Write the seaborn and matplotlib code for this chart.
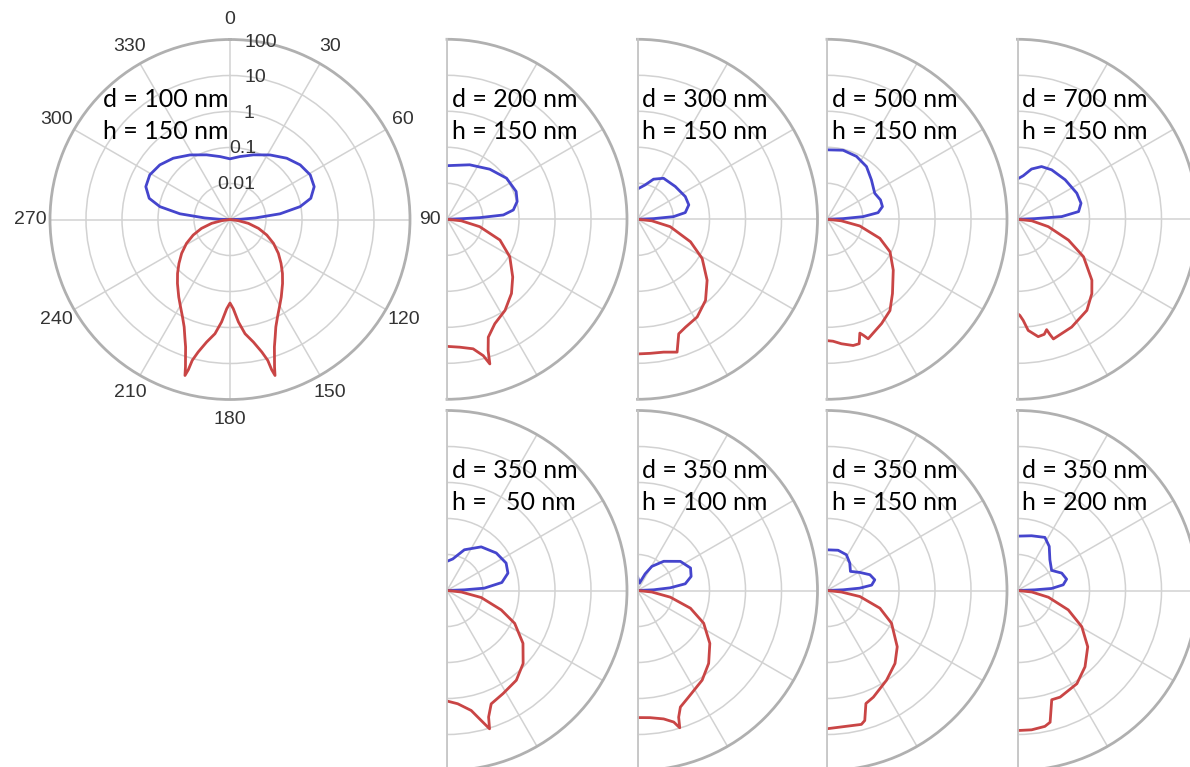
import numpy as np
import matplotlib
matplotlib.use("Agg")
import matplotlib.pyplot as plt
from matplotlib.ticker import NullLocator
import seaborn as sns

# ---------------- data (angle in degrees, log10 of scattered intensity) ----------------
d100_blue_theta = [0, 9.0, 19.9, 31.8, 42.8, 52.1, 60.9, 68.7, 75.3, 79.6, 83.5, 86.5, 88.5, 90]
d100_blue_log10 = [-1.315, -1.23, -1.09, -0.89, -0.68, -0.53, -0.45, -0.49, -0.68, -1.02, -1.6, -2.3, -2.7, -3]
d100_red_theta = [90, 98.0, 101.8, 107.3, 112.9, 118.8, 125.0, 130.7, 135.8, 140.6, 146.5, 150.5, 154.0,
                  156.9, 159.0, 160.8, 162.1, 163.2, 163.9, 164.5, 165.0, 166.5, 169.2, 172.5, 175.3, 177.9, 180]
d100_red_log10 = [-3, -2.77, -2.48, -2.17, -1.89, -1.62, -1.36, -1.13, -0.91, -0.70, -0.42, -0.21, 0.01,
                  0.245, 0.50, 0.75, 1.02, 1.28, 1.51, 1.33, 1.05, 0.785, 0.465, 0.20, -0.145, -0.52, -0.68]

d200_blue_theta = [0, 22.6, 40.5, 55.4, 68.1, 75.8, 82, 85.6, 87.1, 87.6, 90]
d200_blue_log10 = [-1.51, -1.36, -1.17, -0.99, -0.93, -0.99, -1.14, -1.43, -2.09, -2.55, -3]
d200_red_theta = [90, 96, 102.7, 111.4, 120.8, 131.3, 139, 147.5, 155.4, 160.7, 162.6, 163.5, 165.1, 168.6, 174.3, 180]
d200_red_log10 = [-3, -2.6, -2.07, -1.42, -0.97, -0.57, -0.27, 0.0, 0.19, 0.47, 0.82, 1.19, 0.92, 0.67, 0.57, 0.53]

d300_blue_theta = [0, 12.6, 21.8, 32.4, 49, 64.6, 74.3, 82, 85.8, 87.6, 90]
d300_blue_log10 = [-2.16, -2.02, -1.8, -1.65, -1.61, -1.53, -1.52, -1.66, -2.0, -2.55, -3]
d300_red_theta = [90, 96, 102.7, 113, 121.2, 131.2, 140, 148.6, 156, 160.2, 163.4, 168.9, 174.6, 180]
d300_red_log10 = [-3, -2.6, -2.07, -1.4, -0.9, -0.43, -0.06, 0.18, 0.28, 0.38, 0.85, 0.76, 0.74, 0.74]

d500_blue_theta = [0, 13.1, 25.1, 36.8, 48.4, 61.4, 70.1, 77.1, 82.6, 85.8, 87.6, 90]
d500_blue_log10 = [-1.07, -1.03, -1.07, -1.17, -1.35, -1.49, -1.42, -1.42, -1.57, -2.0, -2.55, -3]
d500_red_theta = [90, 96, 101.5, 109.8, 117.3, 127.5, 138.6, 145.4, 152.4, 161, 162.4, 163.9, 165.5, 168.3, 173.4, 177.2, 180]
d500_red_log10 = [-3, -2.6, -2.07, -1.44, -1.03, -0.68, -0.25, 0.08, 0.27, 0.51, 0.39, 0.29, 0.57, 0.58, 0.48, 0.39, 0.37]

d700_blue_theta = [0, 7.5, 15.6, 24.5, 34.6, 50.3, 66.2, 75.8, 82.8, 86.5, 87.8, 90]
d700_blue_log10 = [-1.88, -1.78, -1.55, -1.39, -1.33, -1.28, -1.2, -1.18, -1.29, -1.77, -2.52, -3]
d700_red_theta = [90, 96, 103.4, 112.2, 119.6, 129.3, 135, 142.7, 153.3, 163.3, 164.3, 165.2, 166.9, 170, 174.5, 176.8, 178.6, 180]
d700_red_log10 = [-3, -2.6, -2.12, -1.47, -0.89, -0.33, -0.08, 0.18, 0.35, 0.47, 0.32, 0.17, 0.28, 0.31, 0.10, -0.19, -0.33, -0.38]

h50_blue_theta = [0, 10.3, 23.1, 38.1, 52.7, 65.1, 74.1, 81.7, 86.4, 87.8, 90]
h50_blue_log10 = [-2.19, -2.11, -1.77, -1.46, -1.28, -1.19, -1.24, -1.46, -1.96, -2.52, -3]
h50_red_theta = [90, 96, 101.6, 109.7, 115.9, 124.8, 133.8, 142.3, 151.5, 158.7, 161.8, 162.9, 165.3, 168.6, 174.6, 180]
h50_red_log10 = [-3, -2.6, -2.03, -1.4, -0.91, -0.43, -0.07, 0.15, 0.26, 0.38, 0.70, 1.02, 0.73, 0.40, 0.16, 0.07]

h100_blue_theta = [0, 15, 24.7, 30.8, 41.9, 55.8, 67, 75.3, 82, 85.3, 87.5, 90]
h100_blue_log10 = [-2.61, -2.79, -2.49, -2.22, -1.91, -1.56, -1.4, -1.46, -1.66, -2.09, -2.55, -3]
h100_red_theta = [90, 96, 101.5, 108.5, 116.3, 126.2, 135.7, 144.2, 154.3, 159.8, 162, 162.9, 164.6, 168.5, 174.3, 180]
h100_red_log10 = [-3, -2.6, -2.07, -1.45, -0.95, -0.51, -0.17, 0.07, 0.28, 0.45, 0.70, 0.99, 0.79, 0.64, 0.55, 0.53]

h150_blue_theta = [0, 15.4, 28.5, 39.7, 50.8, 61.1, 69.8, 77.4, 83.1, 85.9, 87.5, 90]
h150_blue_log10 = [-1.87, -1.84, -1.87, -2.01, -2.16, -1.96, -1.73, -1.64, -1.75, -2.09, -2.55, -3]
h150_red_theta = [90, 96, 100.4, 108.5, 116.9, 128.7, 137, 146.4, 156.5, 161, 163.8, 165.6, 171.9, 180]
h150_red_log10 = [-3, -2.6, -2.07, -1.45, -0.99, -0.50, -0.23, -0.01, 0.23, 0.32, 0.76, 0.84, 0.81, 0.84]

h200_blue_theta = [0, 14.4, 27.3, 35.7, 46.5, 59.5, 68.5, 77, 82.9, 86.6, 87.8, 90]
h200_blue_log10 = [-1.49, -1.43, -1.34, -1.49, -1.76, -1.90, -1.68, -1.60, -1.72, -2.05, -2.52, -3]
h200_red_theta = [90, 96, 102.3, 110.9, 119.4, 128.7, 138.5, 147.5, 158.2, 162.6, 166.1, 168.6, 174.2, 180]
h200_red_log10 = [-3, -2.6, -2.12, -1.49, -0.95, -0.50, -0.17, 0.07, 0.19, 0.18, 0.77, 0.85, 0.89, 0.89]

d_labels = ["d = 100 nm", "d = 200 nm", "d = 300 nm", "d = 500 nm", "d = 700 nm",
            "d = 350 nm", "d = 350 nm", "d = 350 nm", "d = 350 nm"]
h_labels = ["h = 150 nm", "h = 150 nm", "h = 150 nm", "h = 150 nm", "h = 150 nm",
            "h =   50 nm", "h = 100 nm", "h = 150 nm", "h = 200 nm"]

theta_ticks = [0, 30, 60, 90, 120, 150, 180, 210, 240, 270, 300, 330]
r_ticks = [0.01, 0.1, 1, 10, 100]
r_tick_labels = ["0.01", "0.1", "1", "10", "100"]

# ---------------- style ----------------
sns.set_theme(style="whitegrid")
plt.rcParams["font.family"] = ["Liberation Sans", "DejaVu Sans"]

W, H = 1190, 767
fig = plt.figure(figsize=(W / 100, H / 100), dpi=100)
fig.patch.set_facecolor("white")

GRID = "#d2d2d2"
EDGE = "#b0b0b0"
BLUE = "#4545cd"
RED = "#c94545"
TXT = "#333333"
R = 180  # px radius


def fig_box(left, top, w, h):
    return [left / W, 1 - (top + h) / H, w / W, h / H]


def style_axes(ax, half):
    ax.set_facecolor("white")
    ax.set_theta_zero_location("N")
    ax.set_theta_direction(-1)
    if half:
        ax.set_thetamin(0)
        ax.set_thetamax(180)
    ax.set_rscale("log")
    ax.set_rlim(1e-3, 1e2)
    ax.set_yticks(r_ticks[:-1])
    ax.yaxis.set_minor_locator(NullLocator())
    ax.set_yticklabels([])
    ax.grid(True, color=GRID, lw=1.1)
    ax.spines["polar"].set_color(EDGE)
    ax.spines["polar"].set_linewidth(2.0)
    if half:
        for s in ("start", "end"):
            ax.spines[s].set_color("#c6c6c6")
            ax.spines[s].set_linewidth(1.3)
        ax.spines["inner"].set_visible(False)


def draw(ax, th, lg, color):
    sns.lineplot(x=np.deg2rad(th), y=np.power(10.0, lg), sort=False, estimator=None,
                 color=color, lw=2.0, ax=ax)
    ax.set_xlabel("")
    ax.set_ylabel("")


def add_text(x, y, i):
    for j, lab in enumerate((d_labels[i], h_labels[i])):
        fig.text(x / W, 1 - (y + 32 * j) / H, lab, family=["Lato", "DejaVu Sans"], fontsize=18,
                 color="black", va="baseline", ha="left")


# ---------------- full polar plot (d = 100 nm) ----------------
cx0, cy0 = 230, 219.5
ax0 = fig.add_axes(fig_box(cx0 - R, cy0 - R, 2 * R, 2 * R), projection="polar")
style_axes(ax0, half=False)
ax0.set_xticks(np.deg2rad(theta_ticks))
ax0.set_xticklabels([str(t) for t in theta_ticks], fontsize=14, color=TXT)
ax0.tick_params(axis="x", pad=1.5)
bt = np.array(d100_blue_theta)
bl = np.array(d100_blue_log10)
draw(ax0, np.concatenate([-bt[::-1], bt[1:]]), np.concatenate([bl[::-1], bl[1:]]), BLUE)
rt = np.array(d100_red_theta)
rl = np.array(d100_red_log10)
draw(ax0, np.concatenate([rt, 360 - rt[::-1][1:]]), np.concatenate([rl, rl[::-1][1:]]), RED)
for v, lab in zip(r_ticks, r_tick_labels):
    ax0.text(np.deg2rad(10), v, lab, ha="center", va="center", fontsize=14, color=TXT, zorder=5)
add_text(103, 107, 0)

# ---------------- half polar plots ----------------
halves = [
    (d200_blue_theta, d200_blue_log10, d200_red_theta, d200_red_log10),
    (d300_blue_theta, d300_blue_log10, d300_red_theta, d300_red_log10),
    (d500_blue_theta, d500_blue_log10, d500_red_theta, d500_red_log10),
    (d700_blue_theta, d700_blue_log10, d700_red_theta, d700_red_log10),
    (h50_blue_theta, h50_blue_log10, h50_red_theta, h50_red_log10),
    (h100_blue_theta, h100_blue_log10, h100_red_theta, h100_red_log10),
    (h150_blue_theta, h150_blue_log10, h150_red_theta, h150_red_log10),
    (h200_blue_theta, h200_blue_log10, h200_red_theta, h200_red_log10),
]
centers_x = [447, 637.5, 827, 1017.5]
centers_y = [219.3, 590.5]

for k, (bth, blg, rth, rlg) in enumerate(halves):
    cx = centers_x[k % 4]
    cy = centers_y[k // 4]
    ax = fig.add_axes(fig_box(cx - R / 2, cy - R, 2 * R, 2 * R), projection="polar")
    style_axes(ax, half=True)
    ax.set_xticks(np.deg2rad([0, 30, 60, 90, 120, 150, 180]))
    ax.set_xticklabels([])
    draw(ax, bth, blg, BLUE)
    draw(ax, rth, rlg, RED)
    add_text(cx + 5, cy - 112, k + 1)

fig.savefig("out.png", dpi=100, facecolor="white")
